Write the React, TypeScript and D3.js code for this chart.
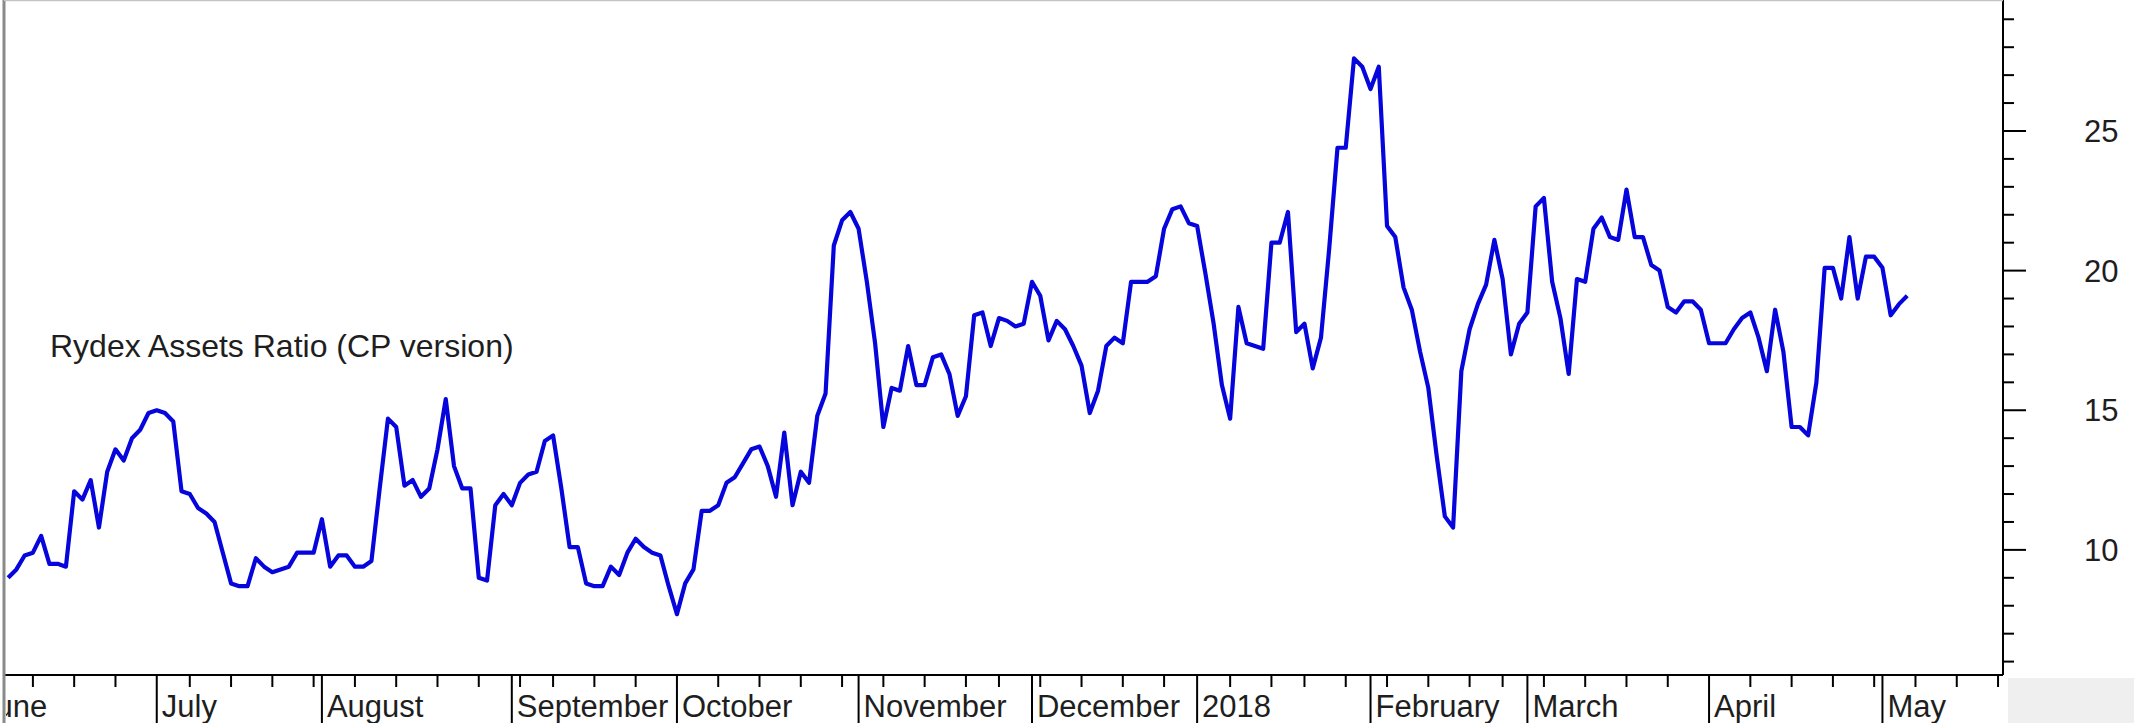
import React, { useEffect, useRef } from "react";
import * as d3 from "d3";

const WIDTH = 2134;
const HEIGHT = 723;

// Rydex assets ratio, one reading per trading day, first reading on 2017-06-07
const jun2017 = [9.0, 9.3, 9.8, 9.9, 10.5, 9.5, 9.5, 9.4, 12.1, 11.8, 12.5, 10.8, 12.8, 13.6, 13.2, 14.0, 14.3, 14.9];
const jul2017 = [15.0, 14.9, 14.6, 12.1, 12.0, 11.5, 11.3, 11.0, 9.9, 8.8, 8.7, 8.7, 9.7, 9.4, 9.2, 9.3, 9.4, 9.9, 9.9, 9.9];
const aug2017 = [11.1, 9.4, 9.8, 9.8, 9.4, 9.4, 9.6, 12.2, 14.7, 14.4, 12.3, 12.5, 11.9, 12.2, 13.6, 15.4, 13.0, 12.2, 12.2, 9.0, 8.9, 11.6, 12.0];
const sep2017 = [11.6, 12.4, 12.7, 12.8, 13.9, 14.1, 12.2, 10.1, 10.1, 8.8, 8.7, 8.7, 9.4, 9.1, 9.9, 10.4, 10.1, 9.9, 9.8, 8.7];
const oct2017 = [7.7, 8.8, 9.3, 11.4, 11.4, 11.6, 12.4, 12.6, 13.1, 13.6, 13.7, 13.0, 11.9, 14.2, 11.6, 12.8, 12.4, 14.8, 15.6, 20.9, 21.8, 22.1];
const nov2017 = [21.5, 19.6, 17.4, 14.4, 15.8, 15.7, 17.3, 15.9, 15.9, 16.9, 17.0, 16.3, 14.8, 15.5, 18.4, 18.5, 17.3, 18.3, 18.2, 18.0, 18.1];
const dec2017 = [19.6, 19.1, 17.5, 18.2, 17.9, 17.3, 16.6, 14.9, 15.7, 17.3, 17.6, 17.4, 19.6, 19.6, 19.6, 19.8, 21.5, 22.2, 22.3, 21.7];
const jan2018 = [21.6, 19.9, 18.1, 15.9, 14.7, 18.7, 17.4, 17.3, 17.2, 21.0, 21.0, 22.1, 17.8, 18.1, 16.5, 17.6, 20.8, 24.4, 24.4, 27.6, 27.3];
const feb2018 = [26.5, 27.3, 21.6, 21.2, 19.4, 18.6, 17.1, 15.8, 13.4, 11.2, 10.8, 16.4, 17.9, 18.8, 19.5, 21.1, 19.7, 17.0, 18.1];
const mar2018 = [18.5, 22.3, 22.6, 19.6, 18.3, 16.3, 19.7, 19.6, 21.5, 21.9, 21.2, 21.1, 22.9, 21.2, 21.2, 20.2, 20.0, 18.7, 18.5, 18.9, 18.9, 18.6];
const apr2018 = [17.4, 17.4, 17.4, 17.9, 18.3, 18.5, 17.6, 16.4, 18.6, 17.1, 14.4, 14.4, 14.1, 16.0, 20.1, 20.1, 19.0, 21.2, 19.0, 20.5, 20.5];
const may2018 = [20.1, 18.4, 18.8, 19.1];

const firstReading = "2017-06-07";
const monthLabels = ["June", "July", "August", "September", "October", "November", "December", "2018", "February", "March", "April", "May"];
const yLabelTicks = [10, 15, 20, 25];
const yMinorTicks = d3.range(6, 30);
const marketHolidays = ["2017-07-04", "2017-09-04", "2017-11-23", "2017-12-25", "2018-01-01", "2018-01-15", "2018-02-19", "2018-05-28"];

const iso = (d: Date) => d.toISOString().slice(0, 10);

// trading calendar for the x axis (weekdays minus exchange holidays)
const tradingDays = (start: Date, end: Date) => {
  const out: Date[] = [];
  for (let d = new Date(start); d <= end; d = new Date(d.getTime() + 86400000)) {
    const wd = d.getUTCDay();
    if (wd === 0 || wd === 6) continue;
    if (marketHolidays.includes(iso(d))) continue;
    out.push(d);
  }
  return out;
};

const App: React.FC = () => {
  const svgRef = useRef<SVGSVGElement | null>(null);

  useEffect(() => {
    if (!svgRef.current) return;
    const svg = d3.select(svgRef.current);
    svg.selectAll("*").remove();

    const days = tradingDays(new Date(Date.UTC(2017, 5, 1)), new Date(Date.UTC(2018, 4, 31)));
    const startIdx = days.findIndex((d) => iso(d) === firstReading);
    const values = [
      ...jun2017, ...jul2017, ...aug2017, ...sep2017, ...oct2017, ...nov2017,
      ...dec2017, ...jan2018, ...feb2018, ...mar2018, ...apr2018, ...may2018,
    ];
    const series = values.map((v, k) => ({ i: startIdx + k, v }));

    const left = 4;
    const right = 2003;
    const axisY = 675;

    const x = d3.scaleLinear().domain([3.5, 245.6]).range([left, right]);
    const y = d3.scaleLinear().domain([5.52, 29.69]).range([axisY, 0]);

    svg.append("rect").attr("width", WIDTH).attr("height", HEIGHT).attr("fill", "#fff");
    svg.append("rect")
      .attr("x", 2008).attr("y", 678)
      .attr("width", WIDTH - 2008).attr("height", HEIGHT - 678)
      .attr("fill", "#efefef");

    svg.append("defs").append("clipPath").attr("id", "labelClip")
      .append("rect").attr("x", left + 2).attr("y", axisY).attr("width", right - left).attr("height", HEIGHT - axisY);

    // month starts and weekly ticks
    const monthStarts: number[] = [];
    const weekStarts: number[] = [];
    days.forEach((d, i) => {
      const prev = days[i - 1];
      if (!prev || prev.getUTCMonth() !== d.getUTCMonth()) {
        monthStarts.push(i);
        return;
      }
      if (d.getUTCDay() < prev.getUTCDay() || d.getTime() - prev.getTime() > 3 * 86400000) weekStarts.push(i);
    });

    const xAxis = svg.append("g").attr("stroke", "#000");
    xAxis.append("line")
      .attr("x1", left).attr("x2", right)
      .attr("y1", axisY).attr("y2", axisY)
      .attr("stroke-width", 2);

    xAxis.selectAll("line.week")
      .data(weekStarts.filter((i) => x(i) > left && x(i) <= right))
      .enter().append("line")
      .attr("class", "week")
      .attr("x1", (i) => x(i)).attr("x2", (i) => x(i))
      .attr("y1", axisY).attr("y2", axisY + 12)
      .attr("stroke-width", 2);

    xAxis.selectAll("line.month")
      .data(monthStarts.filter((i) => x(i) > left && x(i) <= right))
      .enter().append("line")
      .attr("class", "month")
      .attr("x1", (i) => x(i)).attr("x2", (i) => x(i))
      .attr("y1", axisY).attr("y2", HEIGHT)
      .attr("stroke-width", 2);

    svg.append("g").attr("clip-path", "url(#labelClip)")
      .selectAll("text")
      .data(monthStarts.slice(0, monthLabels.length))
      .enter().append("text")
      .attr("x", (i) => x(i) + 5)
      .attr("y", 717)
      .attr("font-family", "'Liberation Sans', Arial, sans-serif")
      .attr("font-size", 31)
      .attr("fill", "#1e1e1e")
      .text((_, k) => monthLabels[k]);

    // right value axis
    const yAxis = svg.append("g").attr("stroke", "#000");
    yAxis.append("line")
      .attr("x1", right).attr("x2", right)
      .attr("y1", 0).attr("y2", axisY)
      .attr("stroke-width", 2);
    yAxis.selectAll("line.tick")
      .data(yMinorTicks)
      .enter().append("line")
      .attr("class", "tick")
      .attr("x1", right)
      .attr("x2", (v) => right + (yLabelTicks.includes(v) ? 23 : 11))
      .attr("y1", (v) => y(v)).attr("y2", (v) => y(v))
      .attr("stroke-width", 2);

    svg.append("g")
      .selectAll("text")
      .data(yLabelTicks)
      .enter().append("text")
      .attr("x", 2084)
      .attr("y", (v) => y(v))
      .attr("dy", "0.36em")
      .attr("font-family", "'Liberation Sans', Arial, sans-serif")
      .attr("font-size", 31)
      .attr("fill", "#1e1e1e")
      .text((v) => v);

    // frame
    svg.append("line")
      .attr("x1", left).attr("x2", left).attr("y1", 0).attr("y2", HEIGHT)
      .attr("stroke", "#8a8a8a").attr("stroke-width", 3);
    svg.append("line")
      .attr("x1", left).attr("x2", right).attr("y1", 0.5).attr("y2", 0.5)
      .attr("stroke", "#c4c4c4").attr("stroke-width", 1.5);

    // title
    svg.append("text")
      .attr("x", 50).attr("y", 357)
      .attr("font-family", "'Liberation Sans', Arial, sans-serif")
      .attr("font-size", 32)
      .attr("fill", "#1e1e1e")
      .text("Rydex Assets Ratio (CP version)");

    // ratio line
    const line = d3.line<{ i: number; v: number }>()
      .x((d) => x(d.i))
      .y((d) => y(d.v));

    svg.append("path")
      .datum(series)
      .attr("d", line)
      .attr("fill", "none")
      .attr("stroke", "#0505dc")
      .attr("stroke-width", 4.2)
      .attr("stroke-linejoin", "round");
  }, []);

  return (
    <svg
      ref={svgRef}
      width={WIDTH}
      height={HEIGHT}
      style={{ position: "absolute", left: 0, top: 0, display: "block" }}
    ></svg>
  );
};

export default App;
